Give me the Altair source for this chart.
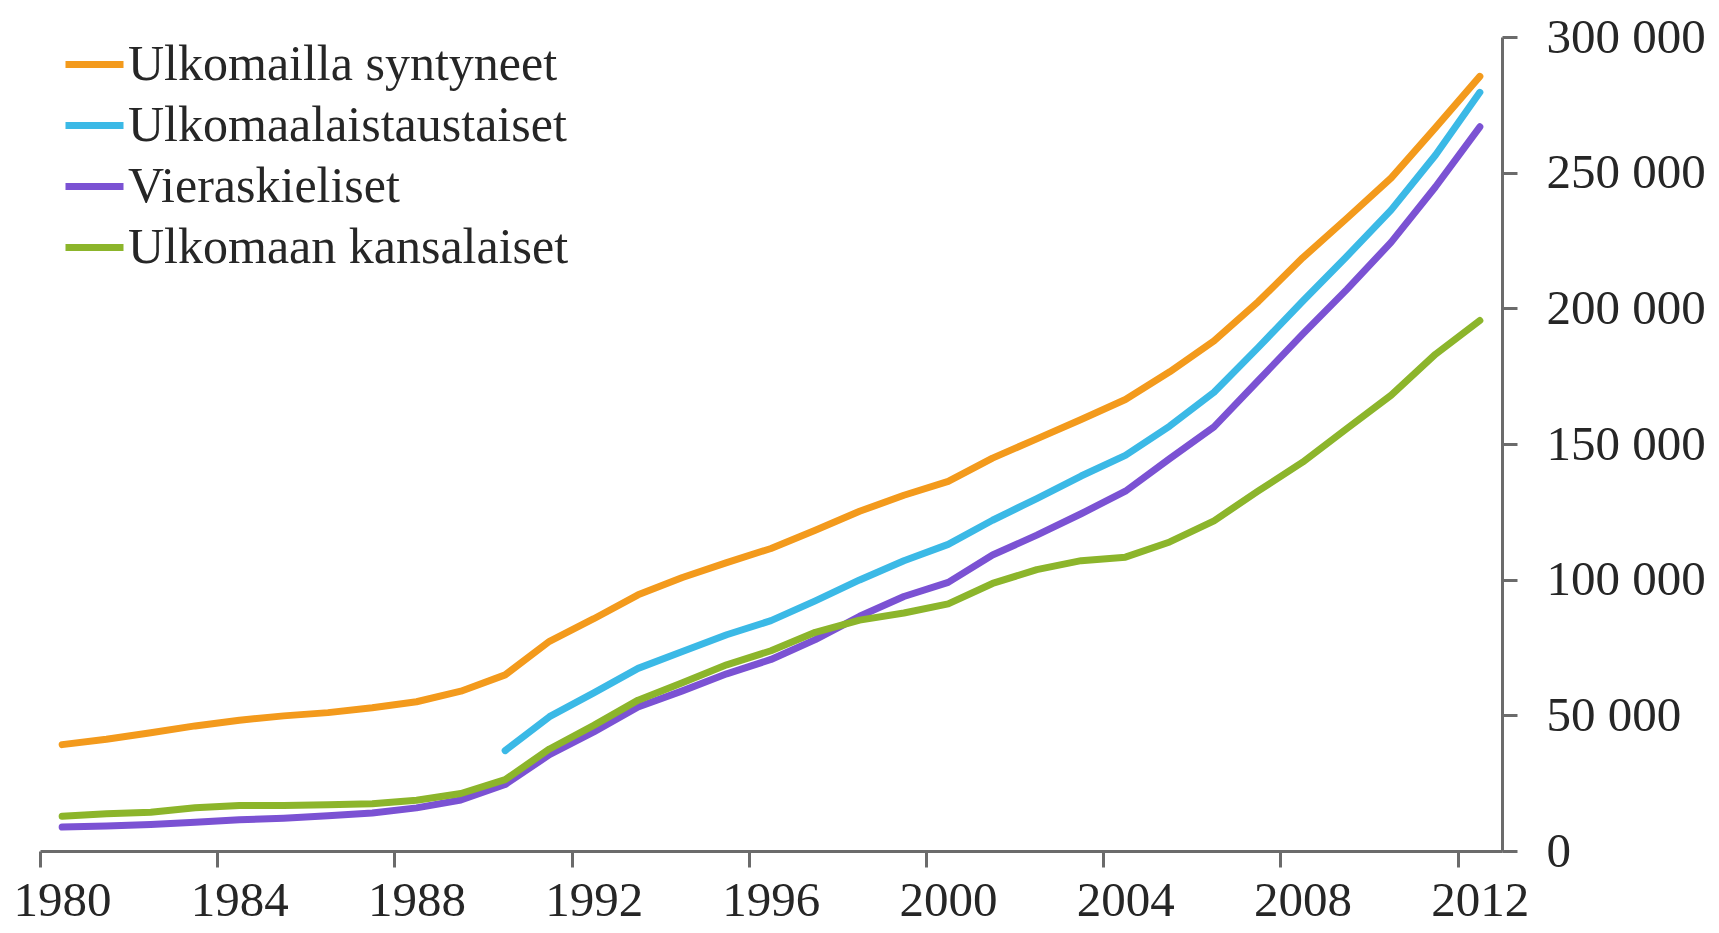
import altair as alt
import pandas as pd

years = list(range(1980, 2013))

series_names = [
    "Ulkomailla syntyneet",
    "Ulkomaalaistaustaiset",
    "Vieraskieliset",
    "Ulkomaan kansalaiset",
]
series_colors = ["#F39A1C", "#3BB9E6", "#7B52D3", "#8CB52B"]

# thousands of persons, 1980-2012
syntyneet = [39.2, 41.2, 43.6, 46.1, 48.2, 49.8, 51.0, 52.8, 55.0, 58.9,
             64.9, 77.3, 85.6, 94.4, 100.8, 106.3, 111.5, 118.2, 125.2, 131.1,
             136.2, 144.8, 151.9, 159.0, 166.4, 176.6, 188.0, 202.5, 218.6, 233.2,
             248.1, 266.6, 285.5]
taustaiset = [None] * 10 + [
             37.0, 49.5, 58.3, 67.3, 73.5, 79.7, 84.9, 92.2, 99.9, 107.0,
             113.0, 121.9, 129.9, 138.2, 145.8, 156.6, 169.1, 185.6, 202.6, 219.2,
             236.3, 256.5, 279.6]
vieraskieliset = [8.8, 9.2, 9.8, 10.6, 11.5, 12.1, 13.0, 14.0, 15.9, 18.8,
                  24.5, 35.5, 43.9, 53.1, 59.0, 65.3, 70.6, 77.9, 86.5, 93.8,
                  99.0, 109.1, 116.4, 124.3, 132.6, 144.6, 156.3, 173.4, 190.5, 207.0,
                  224.4, 244.8, 266.9]
kansalaiset = [12.8, 13.7, 14.3, 15.9, 16.8, 16.8, 17.0, 17.4, 18.7, 21.2,
               26.3, 37.6, 46.3, 55.6, 62.0, 68.6, 73.8, 80.6, 85.1, 87.7,
               91.1, 98.6, 103.7, 107.0, 108.3, 113.9, 121.7, 132.7, 143.3, 155.7,
               168.0, 183.1, 195.5]

x_tick_years = list(range(1980, 2013, 4))
y_tick_values = [0, 50000, 100000, 150000, 200000, 250000, 300000]

rows = []
for name, vals in zip(series_names, [syntyneet, taustaiset, vieraskieliset, kansalaiset]):
    for yr, v in zip(years, vals):
        if v is not None:
            rows.append({"sarja": name, "vuosi": yr, "arvo": v * 1000})
df = pd.DataFrame(rows)

FONT = "Liberation Serif"
TXT = "#262626"
AX = "#6b6b6b"

chart = (
    alt.Chart(df)
    .transform_calculate(keskikohta="datum.vuosi + 0.5")
    .mark_line(strokeWidth=7, strokeCap="round", strokeJoin="round")
    .encode(
        x=alt.X(
            "keskikohta:Q",
            scale=alt.Scale(domain=[1980, 2013], nice=False, zero=False),
            axis=alt.Axis(
                values=x_tick_years, format="d", title=None, grid=False,
                labelOffset=22, tickSize=16, labelPadding=9,
                labelFontSize=49, labelFont=FONT, labelColor=TXT,
                domainColor=AX, tickColor=AX, domainWidth=3, tickWidth=3,
                labelFlush=False, labelOverlap=False,
            ),
        ),
        y=alt.Y(
            "arvo:Q",
            scale=alt.Scale(domain=[0, 300000], nice=False),
            axis=alt.Axis(
                orient="right", values=y_tick_values, title=None, grid=False,
                labelExpr="replace(format(datum.value, ','), ',', ' ')",
                tickSize=15, labelPadding=29,
                labelFontSize=49, labelFont=FONT, labelColor=TXT,
                domainColor=AX, tickColor=AX, domainWidth=3, tickWidth=3,
                labelFlush=False, labelOverlap=False,
            ),
        ),
        color=alt.Color(
            "sarja:N",
            scale=alt.Scale(domain=series_names, range=series_colors),
            sort=series_names,
            legend=alt.Legend(
                title=None, orient="none", legendX=22, legendY=-5,
                symbolType="stroke", symbolSize=3364, symbolStrokeWidth=7,
                labelFontSize=50, labelFont=FONT, labelColor=TXT,
                labelOffset=1, rowPadding=3, padding=0, labelLimit=0,
            ),
        ),
    )
    .properties(
        width=1462,
        height=814,
        autosize=alt.AutoSizeParams(type="none"),
        padding={"left": 32, "top": 29, "right": 209, "bottom": 75},
    )
    .configure_view(stroke=None)
)

chart.save("out.html", embed_options={"renderer": "svg", "actions": False})
